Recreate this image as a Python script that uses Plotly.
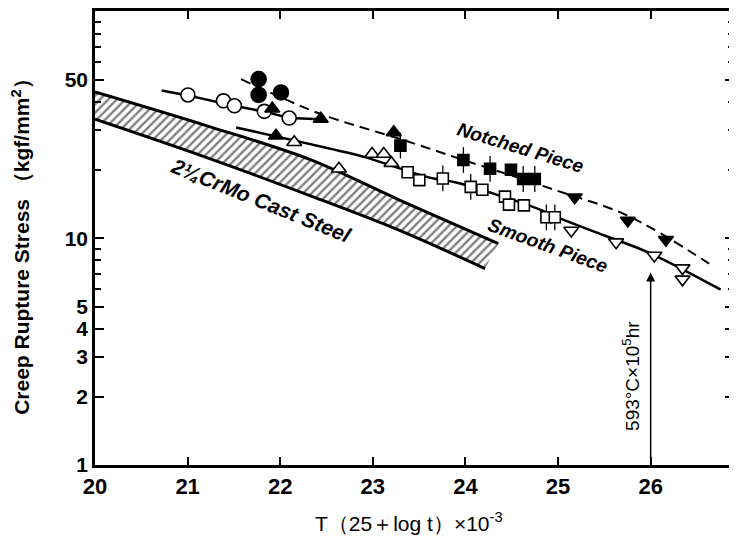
import plotly.graph_objects as go
import math

# ---------------- data ----------------
# smooth piece markers
open_circle_x = [21.003, 21.387, 21.505, 21.828, 22.097]
open_circle_y = [43.0, 40.5, 38.5, 36.4, 34.0]

open_tri_x = [22.151, 22.634, 22.992, 23.118, 23.201]
open_tri_y = [26.6, 20.3, 23.6, 23.6, 21.5]

open_sq_x = [23.376, 23.502, 23.756, 24.057, 24.183, 24.427, 24.470, 24.631, 24.874, 24.965]
open_sq_y = [19.6, 18.1, 18.4, 16.9, 16.4, 15.3, 14.1, 14.0, 12.4, 12.4]
open_sq_tick = [0, 0, 1, 1, 0, 0, 0, 0, 1, 1]

open_inv_x = [25.143, 25.627, 26.040, 26.344, 26.344]
open_inv_y = [10.85, 9.63, 8.41, 7.40, 6.60]

# notched piece markers
filled_circle_x = [21.767, 21.767, 22.008]
filled_circle_y = [50.5, 43.0, 44.1]

filled_tri_x = [21.914, 22.438, 23.226, 21.954]
filled_tri_y = [37.4, 33.7, 29.4, 28.4]

filled_sq_x = [23.298, 23.978, 24.266, 24.492, 24.624, 24.749]
filled_sq_y = [25.7, 22.2, 20.3, 20.1, 18.3, 18.3]
filled_sq_tick = [1, 1, 1, 0, 1, 1]

filled_inv_x = [25.180, 25.753, 26.165]
filled_inv_y = [15.2, 12.0, 9.87]

# curves
upper_solid_x = [20.72, 21.0, 21.5, 21.83, 22.1, 22.44]
upper_solid_y = [45.0, 42.8, 38.5, 36.3, 34.0, 33.6]

smooth_x = [21.524, 22.634, 22.922, 23.602, 23.889, 24.319, 24.785, 25.035, 25.502, 25.968, 26.756]
smooth_y = [30.9, 24.4, 22.8, 18.6, 17.7, 15.7, 13.5, 12.2, 10.3, 8.7, 5.94]

notched_x = [21.577, 22.43, 23.28, 23.98, 24.978, 25.753, 26.631]
notched_y = [50.5, 35.5, 27.6, 22.2, 16.3, 12.6, 7.74]

band_upper_x = [20.0, 21.2, 22.312, 23.3, 24.355]
band_upper_y = [44.3, 31.5, 22.4, 14.7, 9.48]
band_lower_x = [20.0, 21.2, 22.312, 23.3, 24.212]
band_lower_y = [33.6, 22.8, 15.5, 10.8, 7.36]

x_ticks = [20, 21, 22, 23, 24, 25, 26]
y_major = [1, 2, 3, 4, 5, 10, 50]
y_minor = [6, 7, 8, 9, 20, 30, 40, 60, 70, 80, 90]

FONT = "Liberation Sans, Arial, sans-serif"

fig = go.Figure()

# hatched band
fig.add_trace(go.Scatter(
    x=band_upper_x + band_lower_x[::-1],
    y=band_upper_y + band_lower_y[::-1],
    fill="toself", mode="none",
    fillpattern=dict(shape="/", size=6, solidity=0.4, fgcolor="black", bgcolor="white"),
    fillcolor="white", hoverinfo="skip", showlegend=False))
for bx, by in [(band_upper_x, band_upper_y), (band_lower_x, band_lower_y)]:
    fig.add_trace(go.Scatter(x=bx, y=by, mode="lines", line_shape="spline",
                             line=dict(color="black", width=3), showlegend=False))

# curves
fig.add_trace(go.Scatter(x=upper_solid_x, y=upper_solid_y, mode="lines",
                         line=dict(color="black", width=2.5), showlegend=False))
fig.add_trace(go.Scatter(x=smooth_x, y=smooth_y, mode="lines", line_shape="spline",
                         line=dict(color="black", width=2.5), showlegend=False))
fig.add_trace(go.Scatter(x=notched_x, y=notched_y, mode="lines", line_shape="spline",
                         line=dict(color="black", width=2, dash="10px,6px"), showlegend=False))


def tick_err(ys, flags):
    up = [y * 0.14 if f else 0 for y, f in zip(ys, flags)]
    dn = [y * (1 - 1 / 1.14) if f else 0 for y, f in zip(ys, flags)]
    return dict(type="data", array=up, arrayminus=dn, width=0, thickness=1.3, color="black")


def add_markers(xs, ys, symbol, filled, size, err=None):
    fig.add_trace(go.Scatter(
        x=xs, y=ys, mode="markers",
        marker=dict(symbol=symbol, size=size,
                    color="black" if filled else "white",
                    line=dict(color="black", width=1.6)),
        error_y=err, showlegend=False))


add_markers(open_circle_x, open_circle_y, "circle", False, 14)
add_markers(filled_circle_x, filled_circle_y, "circle", True, 15)
add_markers(filled_tri_x, filled_tri_y, "triangle-up", True, 13)
add_markers(open_tri_x, open_tri_y, "triangle-up", False, 13)
add_markers(open_sq_x, open_sq_y, "square", False, 11, tick_err(open_sq_y, open_sq_tick))
add_markers(filled_sq_x, filled_sq_y, "square", True, 11, tick_err(filled_sq_y, filled_sq_tick))
add_markers(filled_inv_x, filled_inv_y, "triangle-down", True, 13)
add_markers(open_inv_x, open_inv_y, "triangle-down", False, 13)

# annotations
def lab(text, x, ly, angle, size, italic=True, bold=True):
    fig.add_annotation(x=x, y=ly, text=text, showarrow=False, textangle=angle,
                       xanchor="center", yanchor="middle",
                       font=dict(family=FONT, size=size, color="black",
                                 weight="bold" if bold else "normal",
                                 style="italic" if italic else "normal"))


lab("2¼CrMo Cast Steel", 21.796, 1.167, 22, 21)
lab("Notched Piece", 24.59, 1.401, 17, 19)
lab("Smooth Piece", 24.89, 0.969, 20, 19)
lab("593°C×10<sup>5</sup>hr", 25.785, 0.392, -90, 19, italic=False, bold=False)

fig.add_annotation(x=26.0, y=math.log10(7.08), ax=26.0, ay=0, axref="x", ayref="y",
                   xref="x", yref="y", showarrow=True, arrowhead=2, arrowsize=1.2,
                   arrowwidth=1.5, arrowcolor="black", text="")

fig.add_annotation(xref="paper", yref="paper", x=-0.117, y=0.492,
                   text="Creep Rupture Stress （kgf/mm<sup>2</sup>）", showarrow=False,
                   textangle=-90, xanchor="center", yanchor="middle",
                   font=dict(family=FONT, size=21, color="black", weight="bold"))
fig.add_annotation(xref="paper", yref="paper", x=(410 - 95) / 642, y=-(522 - 465) / 455,
                   text="T（25＋log t）×10<sup>-3</sup>", showarrow=False,
                   xanchor="center", yanchor="middle",
                   font=dict(family=FONT, size=21, color="black"))

# the page adds an 8px body margin, so the figure is sized to fill the rest of the window
fig.update_layout(
    width=729, height=531,
    margin=dict(l=87, r=0, t=2, b=74),
    paper_bgcolor="white", plot_bgcolor="white",
    xaxis=dict(range=[20, 26.9], tickvals=x_ticks, ticks="inside", ticklen=8,
               tickwidth=1.5, tickcolor="black", showline=True, linecolor="black",
               linewidth=2.5, mirror="allticks", showgrid=False, zeroline=False,
               tickfont=dict(family=FONT, size=22, color="black", weight="bold")),
    yaxis=dict(type="log", range=[0, 2.004], tickvals=y_major, ticktext=[str(v) for v in y_major],
               ticks="inside", ticklen=9, tickwidth=1.5, tickcolor="black",
               showline=True, linecolor="black", linewidth=2.5, mirror="allticks",
               showgrid=False, zeroline=False,
               minor=dict(tickvals=y_minor, ticks="inside", ticklen=6, tickwidth=1.5,
                          tickcolor="black", showgrid=False),
               tickfont=dict(family=FONT, size=21, color="black", weight="bold")),
)

fig.write_html("out.html")
